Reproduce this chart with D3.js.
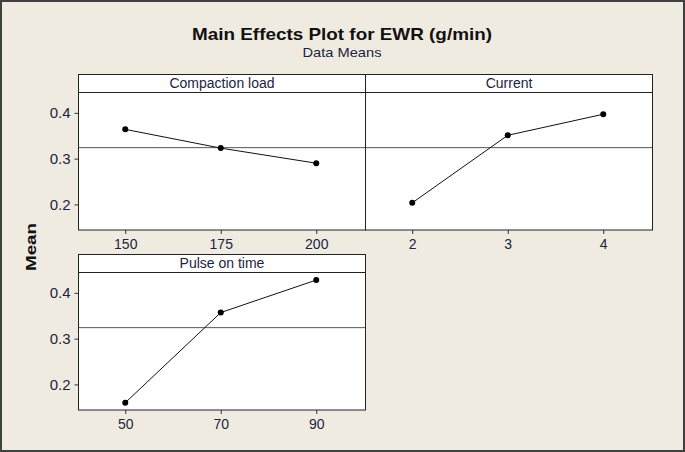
<!DOCTYPE html>
<html>
<head>
<meta charset="utf-8">
<script src="https://cdn.jsdelivr.net/npm/d3@7"></script>
<style>
  body { margin: 0; background: #f0ebe1; }
  svg { display: block; }
</style>
</head>
<body>
<script>
// main effects data
var factors = ["Compaction load", "Current", "Pulse on time"]
var levels = [[150, 175, 200], [2, 3, 4], [50, 70, 90]]
var means = [[0.364, 0.323, 0.290], [0.2035, 0.351, 0.397], [0.160, 0.357, 0.428]]
var grandMean = 0.324
var yTicks = [0.2, 0.3, 0.4]

var width = 685
var height = 452
var font = "Liberation Sans, Arial, sans-serif"
var ink = "#1c2440"

var svg = d3.select("body").append("svg")
    .attr("width", width)
    .attr("height", height)

svg.append("rect")
  .attr("x", 1).attr("y", 1)
  .attr("width", width - 2).attr("height", height - 2)
  .attr("fill", "#f0ebe1")
  .attr("stroke", "#404040")
  .attr("stroke-width", 2)

svg.append("text")
  .attr("x", 342).attr("y", 40)
  .attr("text-anchor", "middle")
  .attr("font-family", font)
  .attr("font-weight", "bold")
  .attr("font-size", 17)
  .attr("textLength", 300)
  .attr("lengthAdjust", "spacingAndGlyphs")
  .attr("fill", "#111")
  .text("Main Effects Plot for EWR (g/min)")

svg.append("text")
  .attr("x", 342).attr("y", 57)
  .attr("text-anchor", "middle")
  .attr("font-family", font)
  .attr("font-size", 13)
  .attr("textLength", 79)
  .attr("lengthAdjust", "spacingAndGlyphs")
  .attr("fill", ink)
  .text("Data Means")

svg.append("text")
  .attr("transform", "translate(36,247) rotate(-90)")
  .attr("text-anchor", "middle")
  .attr("font-family", font)
  .attr("font-weight", "bold")
  .attr("font-size", 15)
  .attr("textLength", 48)
  .attr("lengthAdjust", "spacingAndGlyphs")
  .attr("fill", "#111")
  .text("Mean")

// panel layout
var cols = [[78.5, 365.5], [365.5, 652.5]]
var rows = [74.5, 254.5]
var headH = 18
var plotH = 137.5

var y = d3.scaleLinear().domain([0.1441, 0.4445]).range([plotH, 0])

factors.forEach(function(name, i){
  var c = cols[i % 2]
  var top = rows[Math.floor(i / 2)]
  var w = c[1] - c[0]

  var g = svg.append("g").attr("transform", "translate(" + c[0] + "," + top + ")")

  g.append("rect")
    .attr("width", w).attr("height", headH + plotH)
    .attr("fill", "white")

  g.append("text")
    .attr("x", w / 2).attr("y", 13.5)
    .attr("text-anchor", "middle")
    .attr("font-family", font)
    .attr("font-size", 14)
    .attr("fill", ink)
    .text(name)

  var p = g.append("g").attr("transform", "translate(0," + headH + ")")

  var x = d3.scalePoint().domain(levels[i]).range([-1, w - 1.5]).padding(0.5)

  p.append("line")
    .attr("x1", 0).attr("x2", w)
    .attr("y1", y(grandMean)).attr("y2", y(grandMean))
    .attr("stroke", "#555")
    .attr("stroke-width", 1)

  var pts = levels[i].map(function(l, j){ return [l, means[i][j]] })

  p.append("path")
    .datum(pts)
    .attr("fill", "none")
    .attr("stroke", "#111")
    .attr("stroke-width", 1)
    .attr("d", d3.line()
      .x(function(d){ return x(d[0]) })
      .y(function(d){ return y(d[1]) }))

  p.selectAll("circle").data(pts).enter().append("circle")
    .attr("cx", function(d){ return x(d[0]) })
    .attr("cy", function(d){ return y(d[1]) })
    .attr("r", 3)
    .attr("fill", "#000")

  var xAxis = p.append("g")
    .attr("transform", "translate(0," + plotH + ")")
    .call(d3.axisBottom(x).tickSize(4).tickPadding(5))
  xAxis.select(".domain").remove()
  xAxis.selectAll("line").attr("stroke", "#333")
  xAxis.selectAll("text")
    .attr("font-family", font)
    .attr("font-size", 14)
    .attr("fill", ink)

  if (i % 2 == 0) {
    var yAxis = p.append("g")
      .call(d3.axisLeft(y).tickValues(yTicks).tickFormat(d3.format(".1f")).tickSize(4).tickPadding(4))
    yAxis.select(".domain").remove()
    yAxis.selectAll("line").attr("stroke", "#333")
    yAxis.selectAll("text")
      .attr("font-family", font)
      .attr("font-size", 15)
      .attr("fill", ink)
  }

  g.append("line")
    .attr("x1", 0).attr("x2", w)
    .attr("y1", headH).attr("y2", headH)
    .attr("stroke", "#222")

  g.append("rect")
    .attr("width", w).attr("height", headH + plotH)
    .attr("fill", "none")
    .attr("stroke", "#222")
    .attr("stroke-width", 1)
})
</script>
</body>
</html>
